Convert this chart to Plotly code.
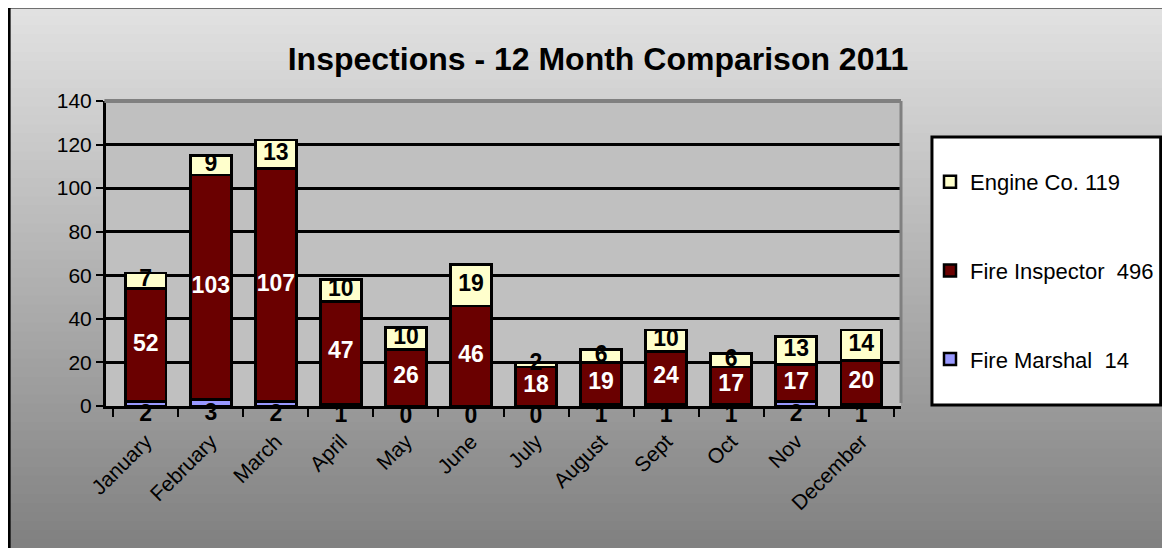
import numpy as np
import plotly.graph_objects as go

# Inspections per month, 2011
months = ['January', 'February', 'March', 'April', 'May', 'June',
          'July', 'August', 'Sept', 'Oct', 'Nov', 'December']
fire_marshal = [2, 3, 2, 1, 0, 0, 0, 1, 1, 1, 2, 1]
fire_inspector = [52, 103, 107, 47, 26, 46, 18, 19, 24, 17, 17, 20]
engine_co = [7, 9, 13, 10, 10, 19, 2, 6, 10, 6, 13, 14]
y_ticks = [0, 20, 40, 60, 80, 100, 120, 140]

# the page body has an 8px margin, so the figure is shifted by 8px
OFF = 8
W, H = 1170 - OFF, 548 - OFF
PL, PR, PT, PB = 106, 902, 101, 406   # plot area in screen pixels
L, R, T, B = PL - OFF, W - (PR - OFF), PT - OFF, H - (PB - OFF)
FONT = 'Liberation Sans, Arial, sans-serif'


# screen pixel -> paper coords
def px(x):
    return (x - PL) / (PR - PL)


def py(y):
    return (PB - y) / (PB - PT)


m = np.array(fire_marshal)
i = np.array(fire_inspector)
e = np.array(engine_co)

fig = go.Figure()

series = [
    ('Fire Marshal  %d' % m.sum(), m, '#9999ff', 3),
    ('Fire Inspector  %d' % i.sum(), i, '#6a0000', 2),
    ('Engine Co. %d' % e.sum(), e, '#ffffcc', 1),
]
for name, vals, col, rank in series:
    fig.add_trace(go.Bar(x=months, y=vals, name=name, legendgroup=name, legendrank=rank,
                         marker=dict(color=col, line=dict(color='black', width=2.5)),
                         hoverinfo='y+name'))

# data labels: marshal just under the base, others centred in their segment
label_sets = [
    (m / 2, m, 'black', 'bottom center'),
    (m + i / 2, i, 'white', 'middle center'),
    (m + i + e / 2, e, 'black', 'middle center'),
]
for ypos, vals, col, pos in label_sets:
    fig.add_trace(go.Scatter(x=months, y=ypos, mode='text', text=[str(v) for v in vals],
                             textposition=pos,
                             textfont=dict(family=FONT, size=23, color=col, weight='bold'),
                             showlegend=False, cliponaxis=False, hoverinfo='skip'))

# chart-area gradient background
shapes = []
top_px, n = 7, 60
step = (548 - top_px) / n
c0, c1 = 226, 128
for s in range(n):
    t = (s + 0.5) / n
    g = int(round(c0 + (c1 - c0) * t))
    shapes.append(dict(type='rect', xref='paper', yref='paper', layer='below',
                       x0=px(8), x1=px(1180),
                       y0=py(top_px + s * step), y1=py(top_px + (s + 1) * step + 1),
                       fillcolor='rgb(%d,%d,%d)' % (g, g, g), line=dict(width=0)))
# outer border (left/top)
shapes.append(dict(type='line', xref='paper', yref='paper', layer='below',
                   x0=px(9), x1=px(9), y0=py(6), y1=py(560),
                   line=dict(color='black', width=3)))
shapes.append(dict(type='line', xref='paper', yref='paper', layer='below',
                   x0=px(8), x1=px(1180), y0=py(7), y1=py(7),
                   line=dict(color='black', width=3)))
# plot area
shapes.append(dict(type='rect', xref='paper', yref='paper', layer='below',
                   x0=0, x1=1, y0=0, y1=1, fillcolor='#c0c0c0', line=dict(width=0)))
# legend box
shapes.append(dict(type='rect', xref='paper', yref='paper', layer='below',
                   x0=px(933), x1=px(1162), y0=py(137), y1=py(405),
                   fillcolor='white', line=dict(color='black', width=3)))
# grey top/right walls
shapes.append(dict(type='line', xref='paper', yref='paper', layer='above',
                   x0=-0.002, x1=1, y0=1, y1=1, line=dict(color='#808080', width=4)))
shapes.append(dict(type='line', xref='paper', yref='paper', layer='above',
                   x0=1, x1=1, y0=0.01, y1=1, line=dict(color='#808080', width=3)))

fig.update_layout(
    template='none',
    width=W, height=H,
    margin=dict(l=L, r=R, t=T, b=B, pad=0),
    paper_bgcolor='white', plot_bgcolor='rgba(0,0,0,0)',
    barmode='stack', bargap=0.37,
    font=dict(family=FONT, color='black', size=20),
    title=dict(text='<b>Inspections - 12 Month Comparison 2011</b>',
               x=(598 - OFF) / W, xanchor='center', y=1 - (59 - OFF) / H, yanchor='middle',
               font=dict(family=FONT, size=32, color='black')),
    shapes=shapes,
    showlegend=True,
    legend=dict(x=px(930), xanchor='left', y=py(161), yanchor='top',
                bgcolor='rgba(0,0,0,0)', borderwidth=0,
                traceorder='grouped', tracegroupgap=57,
                itemwidth=30, font=dict(family=FONT, size=22, color='black')),
)
fig.update_xaxes(type='category', showgrid=False, showline=True, linecolor='black', linewidth=3,
                 ticks='outside', tickson='boundaries', ticklen=8, tickwidth=2, tickcolor='black',
                 tickangle=-45, ticklabelstandoff=12, tickfont=dict(family=FONT, size=21),
                 automargin=False, zeroline=False)
fig.update_yaxes(range=[0, 140], tickvals=y_ticks, showgrid=True, gridcolor='black', gridwidth=3,
                 showline=True, linecolor='black', linewidth=3,
                 ticks='outside', ticklen=7, tickwidth=2, tickcolor='black',
                 tickfont=dict(family=FONT, size=21), automargin=False, zeroline=False)

fig.write_html('out.html')
